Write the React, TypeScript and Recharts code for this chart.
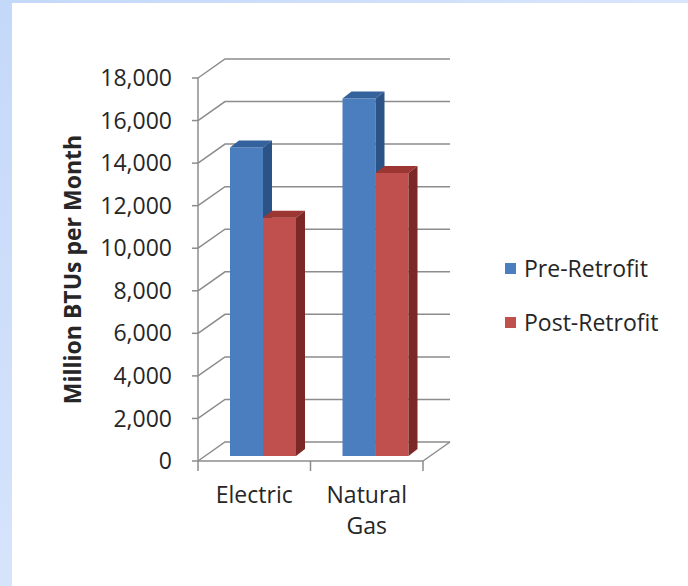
import React from "react"
import { Bar, BarChart, CartesianGrid, Legend, XAxis, YAxis } from "recharts"

// chart values
const categories = ["Electric", "Natural Gas"]
const preRetrofit = [14500, 16800]
const postRetrofit = [11200, 13300]
const seriesNames = ["Pre-Retrofit", "Post-Retrofit"]
const yTicks = [0, 2000, 4000, 6000, 8000, 10000, 12000, 14000, 16000, 18000]
const yTitle = "Million BTUs per Month"

const data = categories.map((name, i) => ({ name, pre: preRetrofit[i], post: postRetrofit[i] }))

const W = 688
const H = 586
const MARGIN = { top: 78, right: 265, bottom: 0, left: 0 }
const Y_AXIS_W = 198
const X_AXIS_H = 125
const PLOT_BOTTOM = H - MARGIN.bottom - X_AXIS_H

// 3D look: back wall offset, bar offset inside the floor, bar depth
const WALL_DX = 27
const WALL_DY = -19
const BAR_DX = 9
const BAR_DY = -5
const DEPTH_DX = 9
const DEPTH_DY = -7

const FONT = "'Open Sans', sans-serif"
const FONT_SIZE = 23
const TEXT = "#262626"
const GRID = "#8c8c8c"

const BLUE = { front: "#4a7ebe", top: "#34629c", side: "#2c5388" }
const RED = { front: "#c0504d", top: "#9c3633", side: "#7c2826" }

// wrap a category label into lines that fit the band, like Excel does
let measureCtx: CanvasRenderingContext2D | null = null
const wrapLabel = (label: string, maxWidth: number) => {
  if (!measureCtx) measureCtx = document.createElement("canvas").getContext("2d")
  const ctx = measureCtx
  if (!ctx) return [label]
  ctx.font = `${FONT_SIZE}px ${FONT}`
  const lines: string[] = []
  let current = ""
  label.split(" ").forEach((word) => {
    const next = current ? `${current} ${word}` : word
    if (current && ctx.measureText(next).width > maxWidth) {
      lines.push(current)
      current = word
    } else {
      current = next
    }
  })
  if (current) lines.push(current)
  return lines
}

const renderGridLine = (props: any) => {
  const { x1, y1, x2 } = props
  const bx1 = x1 + WALL_DX
  const bx2 = x2 + WALL_DX
  const by = y1 + WALL_DY
  const isFloor = Math.abs(y1 - PLOT_BOTTOM) < 0.5
  return (
    <g key={`grid-${y1}`}>
      <polyline points={`${x1},${y1} ${bx1},${by} ${bx2},${by}`} fill="none" stroke={GRID} strokeWidth={1.5} />
      {isFloor && <line x1={x2} y1={y1} x2={bx2} y2={by} stroke={GRID} strokeWidth={1.5} />}
    </g>
  )
}

const Bar3D = (props: any) => {
  const { x, y, width, height, colors } = props
  if (!height || height <= 0) return null
  const fx = x + BAR_DX
  const fy = y + BAR_DY
  const r = fx + width
  return (
    <g>
      <rect x={fx} y={fy} width={width} height={height} fill={colors.front} />
      <polygon
        points={`${fx},${fy} ${fx + DEPTH_DX},${fy + DEPTH_DY} ${r + DEPTH_DX},${fy + DEPTH_DY} ${r},${fy}`}
        fill={colors.top}
      />
      <polygon
        points={`${r},${fy} ${r + DEPTH_DX},${fy + DEPTH_DY} ${r + DEPTH_DX},${fy + height + DEPTH_DY} ${r},${fy + height}`}
        fill={colors.side}
      />
    </g>
  )
}

const CategoryTick = (props: any) => {
  const { x, y, payload, index, visibleTicksCount } = props
  const half = payload.offset || 56
  const isLast = index === visibleTicksCount - 1
  const lines = wrapLabel(String(payload.value), half * 2)
  return (
    <g>
      <line x1={x - half} y1={PLOT_BOTTOM} x2={x - half} y2={PLOT_BOTTOM + 10} stroke={GRID} strokeWidth={1.5} />
      {isLast && (
        <line x1={x + half} y1={PLOT_BOTTOM} x2={x + half} y2={PLOT_BOTTOM + 10} stroke={GRID} strokeWidth={1.5} />
      )}
      <text x={x} y={y} textAnchor="middle" fontFamily={FONT} fontSize={FONT_SIZE} fill={TEXT}>
        {lines.map((line, i) => (
          <tspan key={line} x={x} dy={i === 0 ? "0.71em" : 31}>
            {line}
          </tspan>
        ))}
      </text>
    </g>
  )
}

const renderYTitle = (props: any) => {
  const { viewBox } = props
  const cx = viewBox.x + 72
  const cy = viewBox.y + viewBox.height / 2
  return (
    <text
      x={cx}
      y={cy}
      transform={`rotate(-90, ${cx}, ${cy})`}
      textAnchor="middle"
      dominantBaseline="central"
      fontFamily={FONT}
      fontSize={FONT_SIZE}
      fontWeight="bold"
      fill={TEXT}
    >
      {yTitle}
    </text>
  )
}

const renderLegend = (props: any) => {
  const items = [...(props.payload || [])].sort(
    (a: any, b: any) => seriesNames.indexOf(a.value) - seriesNames.indexOf(b.value)
  )
  return (
    <div style={{ fontFamily: FONT, fontSize: FONT_SIZE, color: TEXT }}>
      {items.map((item: any) => (
        <div key={item.value} style={{ display: "flex", alignItems: "center", height: 54 }}>
          <span style={{ display: "inline-block", width: 11, height: 11, background: item.color, marginRight: 8 }} />
          <span>{item.value}</span>
        </div>
      ))}
    </div>
  )
}

export default function App() {
  return (
    <div
      style={{
        position: "absolute",
        left: 0,
        top: 0,
        width: W,
        height: H,
        background: "linear-gradient(135deg, #c4d8f9 0%, #dbe7fc 60%, #eef4fe 100%)",
      }}
    >
      <div style={{ position: "absolute", left: 12, top: 3, right: 0, bottom: 0, background: "#ffffff" }} />
      <div style={{ position: "absolute", left: 0, top: 0 }}>
        <BarChart width={W} height={H} data={data} margin={MARGIN} barGap={0} barSize={33}>
          <CartesianGrid horizontal={renderGridLine} vertical={false} />
          <XAxis
            dataKey="name"
            height={X_AXIS_H}
            interval={0}
            tickLine={false}
            tickSize={10}
            tickMargin={16}
            axisLine={{ stroke: GRID, strokeWidth: 1.5 }}
            tick={<CategoryTick />}
          />
          <YAxis
            width={Y_AXIS_W}
            domain={[0, 18000]}
            ticks={yTicks}
            interval={0}
            tickSize={6}
            tickMargin={20}
            tickLine={{ stroke: GRID, strokeWidth: 1.5 }}
            axisLine={{ stroke: GRID, strokeWidth: 1.5 }}
            tick={{ fill: TEXT, fontSize: FONT_SIZE, fontFamily: FONT }}
            tickFormatter={(v: number) => v.toLocaleString("en-US")}
            label={{ value: yTitle, content: renderYTitle }}
          />
          <Legend
            layout="horizontal"
            verticalAlign="middle"
            align="center"
            content={renderLegend}
            wrapperStyle={{ left: 505, top: 241, width: 180 }}
          />
          <Bar
            dataKey="pre"
            name={seriesNames[0]}
            fill={BLUE.front}
            isAnimationActive={false}
            shape={(p: any) => <Bar3D {...p} colors={BLUE} />}
          />
          <Bar
            dataKey="post"
            name={seriesNames[1]}
            fill={RED.front}
            isAnimationActive={false}
            shape={(p: any) => <Bar3D {...p} colors={RED} />}
          />
        </BarChart>
      </div>
    </div>
  )
}
